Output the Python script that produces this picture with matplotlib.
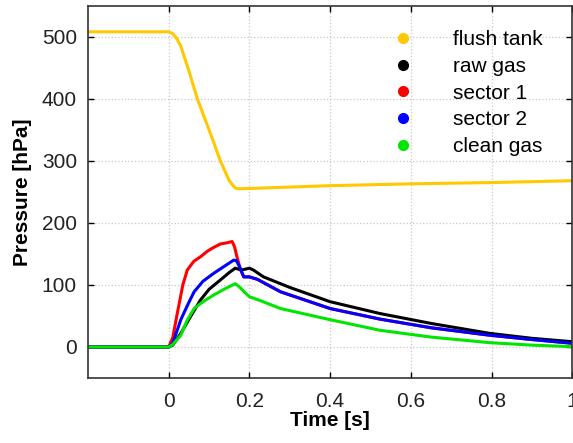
import matplotlib
matplotlib.use("Agg")
import matplotlib.pyplot as plt
from matplotlib.lines import Line2D

plt.rcParams['font.family'] = ['Liberation Sans', 'DejaVu Sans']

# values (time in s, pressure in hPa)
tank_t = [-0.2, 0.0, 0.01, 0.02, 0.03, 0.05, 0.071, 0.1, 0.128, 0.15, 0.165, 0.175, 0.2, 0.4, 0.6, 0.8, 1.0]
tank_p = [508, 508, 505, 497, 485, 445, 400, 350, 300, 268, 256, 255, 255.5, 260, 263, 265, 268]

raw_t = [-0.2, 0.0, 0.01, 0.03, 0.055, 0.079, 0.1, 0.128, 0.15, 0.165, 0.18, 0.2, 0.21, 0.235, 0.3, 0.4, 0.523, 0.65, 0.795, 0.9, 1.0]
raw_p = [0, 0, 3, 22, 50, 76, 93, 108, 120, 127, 124, 127, 124, 113, 96, 73, 54, 38, 22, 14, 8.5]

s1_t = [-0.2, 0.0, 0.01, 0.02, 0.035, 0.046, 0.062, 0.08, 0.095, 0.11, 0.128, 0.145, 0.157, 0.163, 0.17, 0.178, 0.186, 0.2, 0.22, 0.277, 0.4, 0.523, 0.65, 0.795, 0.9, 1.0]
s1_p = [0, 0, 15, 50, 100, 124, 138, 146, 154, 160, 166, 168, 170, 162, 143, 125, 113, 113, 109, 89, 62, 45, 31, 19, 12, 6]

s2_t = [-0.2, 0.0, 0.01, 0.03, 0.05, 0.063, 0.085, 0.112, 0.14, 0.161, 0.168, 0.175, 0.186, 0.2, 0.22, 0.277, 0.4, 0.523, 0.65, 0.795, 0.9, 1.0]
s2_p = [0, 0, 6, 44, 72, 89, 106, 119, 131, 140, 139, 130, 113, 113, 109, 89, 62, 45, 31, 19, 12, 6]

clean_t = [-0.2, 0.0, 0.01, 0.03, 0.045, 0.063, 0.085, 0.112, 0.14, 0.165, 0.175, 0.19, 0.2, 0.23, 0.277, 0.4, 0.523, 0.65, 0.795, 0.9, 1.0]
clean_p = [0, 0, 4, 19, 42, 62, 73, 84, 94, 102, 97, 87, 81, 74, 62, 44, 27, 16, 7, 3, 0.5]

names = ["flush tank", "raw gas", "sector 1", "sector 2", "clean gas"]
colors = ["#ffc800", "#000000", "#ff0000", "#0000ff", "#00e600"]

fig = plt.figure(figsize=(5.73, 4.43), dpi=100)
ax = fig.add_axes([0.1536, 0.1467, 0.845, 0.8403])

lw = 2.2
ax.plot(tank_t, tank_p, color=colors[0], lw=lw)
ax.plot(s1_t, s1_p, color=colors[2], lw=lw)
ax.plot(raw_t, raw_p, color=colors[1], lw=lw)
ax.plot(s2_t, s2_p, color=colors[3], lw=lw)
ax.plot(clean_t, clean_p, color=colors[4], lw=lw)

ax.set_xlim(-0.2, 1.0)
ax.set_ylim(-50, 550)
ax.set_xticks([0, 0.2, 0.4, 0.6, 0.8, 1.0])
ax.set_xticklabels(["0", "0.2", "0.4", "0.6", "0.8", "1"])
ax.set_yticks([0, 100, 200, 300, 400, 500])
ax.grid(True, color="#c8c8c8", linestyle=":", linewidth=0.9)
ax.tick_params(direction="in", top=True, right=True, length=4, width=1,
               labelsize=15, pad=8, labelcolor="#222222")
ax.tick_params(axis="x", pad=10)
for s in ax.spines.values():
    s.set_color("#333333")
    s.set_linewidth(1.2)

ax.set_xlabel("Time [s]", fontsize=15, fontweight="bold", labelpad=0)
ax.set_ylabel("Pressure [hPa]", fontsize=15, fontweight="bold", labelpad=7)

handles = [Line2D([], [], ls="none", marker="o", ms=7, color=c) for c in colors]
ax.legend(handles, names, loc="upper left", bbox_to_anchor=(0.59, 0.985),
          frameon=False, fontsize=15, handlelength=1.0, handletextpad=1.9,
          labelspacing=0.37)

fig.savefig("out.png", dpi=100)
